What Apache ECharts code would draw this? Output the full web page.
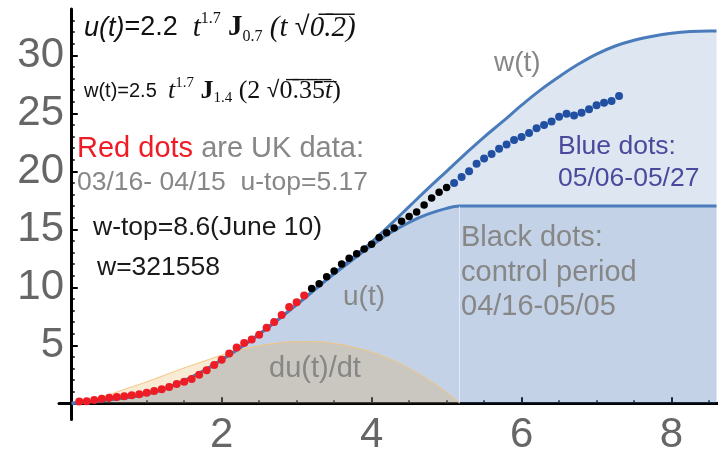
<!DOCTYPE html>
<html>
<head>
<meta charset="utf-8">
<script src="https://cdn.jsdelivr.net/npm/echarts@6/dist/echarts.min.js"></script>
<style>
  html, body { margin: 0; padding: 0; background: #fff; }
  #chart { width: 718px; height: 457px; }
</style>
</head>
<body>
<div id="chart"></div>
<script>
// t is in units of 10 days (0.1 = one day after 03/15)
const wT = [0, 0.5, 1, 1.5, 2, 2.5, 3, 3.25, 3.5, 3.75, 4, 4.25, 4.5, 4.75, 5, 5.25, 5.5, 5.75, 6, 6.25, 6.5, 6.75, 7, 7.25, 7.5, 7.75, 8, 8.25, 8.5, 8.6];
const wVal = [0, 0.3, 0.8, 1.95, 3.75, 5.95, 8.5, 9.85, 11.2, 12.55, 13.9, 15.4, 16.95, 18.5, 20.0, 21.5, 22.95, 24.3, 25.7, 27.0, 28.15, 29.2, 30.1, 30.8, 31.3, 31.65, 31.9, 32.05, 32.1, 32.1];

const uT = [0, 0.5, 1, 1.25, 1.5, 1.75, 2, 2.25, 2.5, 2.75, 3, 3.25, 3.5, 3.75, 4, 4.25, 4.5, 4.75, 5, 5.17, 8.6];
const uVal = [0, 0.3, 0.8, 1.25, 1.95, 2.75, 3.75, 4.8, 5.95, 7.2, 8.5, 9.85, 11.15, 12.4, 13.6, 14.7, 15.6, 16.3, 16.8, 17.0, 17.0];

const duT = [0, 0.25, 0.5, 0.75, 1, 1.25, 1.5, 1.75, 2, 2.25, 2.5, 2.75, 3, 3.25, 3.5, 3.75, 4, 4.25, 4.5, 4.75, 5, 5.17];
const duVal = [0, 0.25, 0.75, 1.3, 1.85, 2.45, 3.05, 3.6, 4.15, 4.6, 4.95, 5.2, 5.3, 5.3, 5.15, 4.85, 4.4, 3.8, 3.0, 2.05, 0.95, 0];

const uTop = 5.17;
const uPlateau = 17.0;

// daily points, one dot per day
const redStart = 0.1;
const redDots = [0.15, 0.18, 0.28, 0.38, 0.48, 0.55, 0.6, 0.7, 0.78, 0.9, 1.05, 1.2, 1.4, 1.65, 1.85, 2.1, 2.45, 2.85, 3.3, 3.75, 4.3, 4.8, 5.2, 5.5, 5.9, 6.5, 7.0, 7.6, 8.3, 8.7, 9.3];
const blackStart = 3.2;
const blackDots = [9.9, 10.3, 10.9, 11.4, 12.0, 12.5, 12.9, 13.3, 13.7, 14.3, 14.7, 15.1, 15.7, 16.1, 16.5, 17.1, 17.7, 18.2, 18.6];
const blueStart = 5.1;
const blueDots = [19.0, 19.5, 20.0, 20.65, 21.1, 21.5, 21.95, 22.3, 22.7, 22.95, 23.3, 23.7, 24.0, 24.3, 24.7, 24.95, 24.8, 25.05, 25.35, 25.7, 25.9, 26.05, 26.5];

const xLabels = [2, 4, 6, 8];
const xMinor = [0.5, 1, 1.5, 2.5, 3, 3.5, 4.5, 5, 5.5, 6.5, 7, 7.5, 8.5];
const yLabels = [5, 10, 15, 20, 25, 30];
const yMinor = [1, 2, 3, 4, 6, 7, 8, 9, 11, 12, 13, 14, 16, 17, 18, 19, 21, 22, 23, 24, 26, 27, 28, 29, 31, 32, 33];

const zip = (xs, ys) => xs.map((x, i) => [x, ys[i]]);
const daily = (start, ys) => ys.map((y, i) => [+(start + i * 0.1).toFixed(2), y]);

const chart = echarts.init(document.getElementById("chart"));

const gray = "#878787";
const lineBlue = "#4a7cbc";
const sans = '"Liberation Sans", Arial, sans-serif';
const serif = '"Liberation Serif", "DejaVu Serif", serif';

const formulaRich = {
  ui: { font: "italic 27px " + sans, fill: "#111", lineHeight: 34 },
  n: { font: "27px " + sans, fill: "#111", lineHeight: 34 },
  rad: { font: "27px " + sans, fill: "#111", lineHeight: 34 },
  ti: { font: "italic 29px " + serif, fill: "#111", lineHeight: 34 },
  sup: { font: "16px " + serif, fill: "#111", lineHeight: 20, verticalAlign: "top" },
  sub: { font: "16px " + serif, fill: "#111", lineHeight: 20, verticalAlign: "bottom" },
  jb: { font: "bold 29px " + serif, fill: "#111", lineHeight: 34 },
  n2: { font: "20px " + sans, fill: "#111", lineHeight: 30 },
  rad2: { font: "23px " + sans, fill: "#111", lineHeight: 30 },
  ti2: { font: "italic 26px " + serif, fill: "#111", lineHeight: 30 },
  s2: { font: "26px " + serif, fill: "#111", lineHeight: 30 },
  sup2: { font: "15px " + serif, fill: "#111", lineHeight: 18, verticalAlign: "top" },
  sub2: { font: "15px " + serif, fill: "#111", lineHeight: 18, verticalAlign: "bottom" },
  jb2: { font: "bold 26px " + serif, fill: "#111", lineHeight: 30 },
};

function txt(x, y, text, font, fill, rich) {
  return {
    type: "text",
    x: x,
    y: y,
    z: 100,
    style: { text: text, font: font, fill: fill, verticalAlign: "middle", rich: rich },
  };
}

const option = {
  animation: false,
  grid: { left: 59, right: 0, top: 8.9, bottom: 37.5, outerBoundsMode: "none", containLabel: false },
  xAxis: [
    {
      type: "value",
      min: -0.17,
      max: 8.62,
      splitLine: { show: false },
      axisLine: { onZero: true, onZeroAxisIndex: 0, lineStyle: { color: "#000", width: 3 } },
      axisTick: { inside: true, length: 6, customValues: xLabels, lineStyle: { color: "#000", width: 2 } },
      axisLabel: { customValues: xLabels, fontSize: 42, fontFamily: sans, color: "#666", margin: -5 },
    },
    {
      type: "value",
      position: "top",
      min: -0.17,
      max: 8.62,
      splitLine: { show: false },
      axisLine: { show: false, onZero: true, onZeroAxisIndex: 0 },
      axisTick: { inside: false, length: 3, customValues: xMinor, lineStyle: { color: "#000", width: 1.5 } },
      axisLabel: { show: false },
    },
  ],
  yAxis: [
    {
      type: "value",
      min: -1.4,
      max: 34,
      splitLine: { show: false },
      axisLine: { onZero: true, onZeroAxisIndex: 0, lineStyle: { color: "#000", width: 3 } },
      axisTick: { inside: true, length: 6, customValues: yLabels, lineStyle: { color: "#000", width: 2 } },
      axisLabel: { customValues: yLabels, fontSize: 42, fontFamily: sans, color: "#666", margin: -5 },
    },
    {
      type: "value",
      position: "right",
      min: -1.4,
      max: 34,
      splitLine: { show: false },
      axisLine: { show: false, onZero: true, onZeroAxisIndex: 0 },
      axisTick: { inside: false, length: 3, customValues: yMinor, lineStyle: { color: "#000", width: 1.5 } },
      axisLabel: { show: false },
    },
  ],
  series: [
    {
      name: "w fill",
      type: "line",
      data: zip(wT, wVal),
      smooth: 0.4,
      showSymbol: false,
      lineStyle: { width: 0 },
      areaStyle: { color: "rgb(72,116,177)", opacity: 0.18 },
    },
    {
      name: "u fill",
      type: "line",
      data: zip(uT, uVal),
      smooth: 0.3,
      showSymbol: false,
      lineStyle: { width: 0 },
      areaStyle: { color: "rgb(72,116,177)", opacity: 0.18 },
      markLine: {
        silent: true,
        symbol: "none",
        label: { show: false },
        lineStyle: { color: "rgba(255,255,255,0.55)", width: 1, type: "solid" },
        data: [[{ coord: [uTop, 0] }, { coord: [uTop, uPlateau] }]],
      },
    },
    {
      name: "du/dt",
      type: "line",
      data: zip(duT, duVal),
      smooth: true,
      showSymbol: false,
      lineStyle: { width: 1, color: "#f3c47c" },
      areaStyle: { color: "rgb(225,156,36)", opacity: 0.2 },
    },
    {
      name: "w",
      type: "line",
      data: zip(wT, wVal),
      smooth: 0.4,
      showSymbol: false,
      lineStyle: { width: 3, color: lineBlue },
    },
    {
      name: "u",
      type: "line",
      data: zip(uT, uVal),
      smooth: 0.3,
      showSymbol: false,
      lineStyle: { width: 3, color: lineBlue },
    },
    {
      name: "red",
      type: "scatter",
      data: daily(redStart, redDots),
      symbolSize: 8,
      itemStyle: { color: "#ee1c25", opacity: 1 },
      z: 5,
    },
    {
      name: "black",
      type: "scatter",
      data: daily(blackStart, blackDots),
      symbolSize: 7.5,
      itemStyle: { color: "#000", opacity: 1 },
      z: 5,
    },
    {
      name: "blue",
      type: "scatter",
      data: daily(blueStart, blueDots),
      symbolSize: 8,
      itemStyle: { color: "#2150a2", opacity: 1 },
      z: 5,
    },
  ],
  graphic: [
    txt(84, 28,
      "{ui|u(t)}{n|=2.2  }{ti|t}{sup|1.7}{jb| J}{sub|0.7}{ti| (t }{rad|\u221a}{ti|0\u0305.\u03052\u0305)}",
      "27px " + sans, "#111", formulaRich),
    txt(84, 91,
      "{n2|w(t)=2.5  }{ti2|t}{sup2|1.7}{jb2| J}{sub2|1.4}{s2| (2 }{rad2|\u221a}{s2|0\u0305.\u03053\u03055\u0305}{ti2|t\u0305}{s2|)}",
      "20px " + sans, "#111", formulaRich),
    txt(77, 149, "{r|Red dots}{g| are UK data:}", "29px " + sans, gray, {
      r: { font: "29px " + sans, fill: "#ee1c25" },
      g: { font: "29px " + sans, fill: gray },
    }),
    txt(77, 183, "03/16- 04/15  u-top=5.17", "26.5px " + sans, gray),
    txt(93, 228, "w-top=8.6(June 10)", "26.5px " + sans, "#1a1a1a"),
    txt(97, 268, "w=321558", "26.5px " + sans, "#1a1a1a"),
    txt(494, 63, "w(t)", "28px " + sans, gray),
    txt(558, 147, "Blue dots:", "26.5px " + sans, "#4a4a9c"),
    txt(558, 179, "05/06-05/27", "26.5px " + sans, "#4a4a9c"),
    txt(461, 238, "Black dots:", "29px " + sans, gray),
    txt(461, 273, "control period", "29px " + sans, gray),
    txt(461, 307, "04/16-05/05", "29px " + sans, gray),
    txt(343, 297, "u(t)", "28px " + sans, gray),
    txt(269, 369, "du(t)/dt", "29px " + sans, gray),
  ],
};

chart.setOption(option);
</script>
</body>
</html>
